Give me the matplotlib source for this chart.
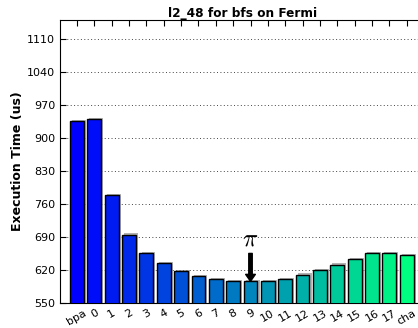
import matplotlib
matplotlib.use("Agg")
import matplotlib.pyplot as plt
import matplotlib.patheffects as pe
import numpy as np

labels = ["bpa", "0", "1", "2", "3", "4", "5", "6", "7", "8", "9", "10",
          "11", "12", "13", "14", "15", "16", "17", "cha"]
values = [935, 940, 779, 695, 656, 634, 618, 607, 600, 596, 596, 596,
          601, 610, 620, 631, 643, 655, 655, 651]
yticks = [550, 620, 690, 760, 830, 900, 970, 1040, 1110]
title = "l2_48 for bfs on Fermi"
ylabel = "Execution Time (us)"
best_label = "9"

plt.rcParams['font.family'] = ['DejaVu Sans']
plt.rcParams['mathtext.fontset'] = 'cm'
fig = plt.figure(figsize=(4.18, 3.28), dpi=100)
ax = fig.add_axes([60/418, 25/328, 365/418, 283/328])

x = np.arange(len(labels))
colors = plt.cm.winter(np.linspace(0, 1, len(labels)))
bars = ax.bar(x, values, width=0.8, color=colors, edgecolor='black', linewidth=1.0,
              zorder=3)
for b in bars:
    b.set_path_effects([pe.SimplePatchShadow(offset=(1.5, 1.0), shadow_rgbFace='gray', alpha=0.6),
                        pe.Normal()])

ax.set_xlim(-0.98, -0.98 + 365/17.35)
ax.set_ylim(550, 1150)
ax.set_yticks(yticks)
ax.set_xticks(x)
ax.set_xticklabels(labels, rotation=30, fontsize=8)
ax.tick_params(axis='y', labelsize=8)
ax.tick_params(direction='in', top=True, right=True, length=4)
ax.yaxis.grid(True, linestyle=(0, (1, 2.5)), color='#444444', linewidth=0.7, zorder=0)
ax.set_axisbelow(True)
ax.set_title(title, fontsize=8.7, fontweight='bold', pad=2)
ax.set_ylabel(ylabel, fontsize=9, fontweight='bold', labelpad=2)

bi = labels.index(best_label)
ax.annotate(r"$\pi$", xy=(x[bi], values[bi]),
            xytext=(x[bi], values[bi] + 65),
            ha='center', va='bottom', fontsize=18,
            arrowprops=dict(facecolor='black', edgecolor='black', width=2.5,
                            headwidth=7, headlength=5, shrink=0.0))

fig.savefig("out.png", dpi=100)
